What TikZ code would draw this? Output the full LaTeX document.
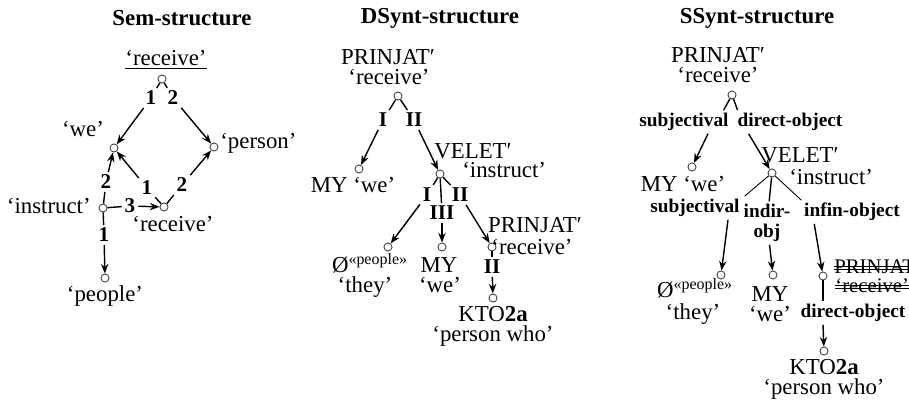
\documentclass[tikz,border=0pt]{standalone}
\usepackage{fontspec}
\setmainfont{Liberation Serif}
\usetikzlibrary{arrows.meta,calc}

\tikzset{
  vtx/.style={circle, draw=black!75, line width=0.5pt, inner sep=0pt, minimum size=4.6pt},
  wrd/.style={inner sep=0pt, text height=8.3pt, text depth=2.4pt, font=\fontsize{13}{13}\selectfont},
  struck/.style={wrd, font=\fontsize{11.8}{12}\selectfont},
  lbl/.style={inner sep=1.5pt, font=\fontsize{11}{11.3}\selectfont\bfseries, align=center},
  biglbl/.style={lbl, font=\fontsize{12}{12}\selectfont\bfseries},
  ttl/.style={font=\fontsize{13}{15}\selectfont\bfseries},
  seg/.style={line width=0.8pt},
  thinseg/.style={line width=0.5pt},
  arr/.style={line width=0.8pt, -{Stealth[length=5.5pt,width=4.2pt]}},
}

\begin{document}
\begin{tikzpicture}[x=0.02cm, y=-0.02cm]
        \useasboundingbox (0,0) rectangle (909,401);

        % Sem-structure
        \node[ttl] (semT) at (182,18) {Sem-structure};
        \node[wrd] (semRecL) at (166,60) {\underline{‘receive’}};
        \node[vtx] (semRec) at (162,79) {};
        \node[vtx] (semWe) at (114,148) {};
        \node[wrd] (semWeL) at (83,131) {‘we’};
        \node[vtx] (semPer) at (214,147) {};
        \node[wrd, anchor=west] (semPerL) at (220,143) {‘person’};
        \node[vtx] (semIns) at (103,208) {};
        \node[wrd, anchor=east] (semInsL) at (91,208) {‘instruct’};
        \node[vtx] (semRec2) at (164,207) {};
        \node[wrd] (semRec2L) at (173,226) {‘receive’};
        \node[vtx] (semPeo) at (105,278) {};
        \node[wrd] (semPeoL) at (105,296) {‘people’};

        \node[biglbl] (semA) at (151,98) {1};
        \node[biglbl] (semB) at (173,98) {2};
        \node[biglbl] (semC) at (106,182) {2};
        \node[biglbl] (semD) at (147,188) {1};
        \node[biglbl] (semE) at (182,185) {2};
        \node[biglbl] (semF) at (130,206) {3};
        \node[biglbl] (semG) at (104,235) {1};

        \draw[seg] (semRec) -- (semA);  \draw[arr] (semA) -- (semWe);
        \draw[seg] (semRec) -- (semB);  \draw[arr] (semB) -- (semPer);
        \draw[seg] (semIns) -- (semC);  \draw[arr] (semC) -- (semWe);
        \draw[seg] (semRec2) -- (semD); \draw[arr] (semD) -- (semWe);
        \draw[seg] (semRec2) -- (semE); \draw[arr] (semE) -- (semPer);
        \draw[seg] (semIns) -- (semF);  \draw[arr] (semF) -- (semRec2);
        \draw[seg] (semIns) -- (semG);  \draw[arr] (semG) -- (semPeo);

        % DSynt-structure
        \node[ttl] (dsT) at (440,18) {DSynt-structure};
        \node[wrd] (dsRecL) at (388,59) {PRINJAT′};
        \node[wrd] (dsRecG) at (389,79) {‘receive’};
        \node[vtx] (dsRec) at (398,96) {};
        \node[vtx] (dsMy) at (359,169) {};
        \node[wrd] (dsMyL) at (353,187) {MY ‘we’};
        \node[vtx] (dsVel) at (440,174) {};
        \node[wrd] (dsVelL) at (473,153) {VELET′};
        \node[wrd, anchor=west] (dsVelG) at (462,172) {‘instruct’};
        \node[vtx] (dsPeo) at (388,247) {};
        \node[wrd] (dsPeoL) at (370,267) {Ø\textsuperscript{«people»}};
        \node[wrd] (dsPeoG) at (365,287) {‘they’};
        \node[vtx] (dsMy2) at (442,247) {};
        \node[wrd] (dsMy2L) at (439,267) {MY};
        \node[wrd] (dsMy2G) at (440,287) {‘we’};
        \node[vtx] (dsPrin) at (492,247) {};
        \node[wrd] (dsPrinL) at (535,227) {PRINJAT′};
        \node[wrd] (dsPrinG) at (532,249) {‘receive’};
        \node[vtx] (dsKto) at (493,298) {};
        \node[wrd] (dsKtoL) at (493,316) {KTO\textbf{2a}};
        \node[wrd] (dsKtoG) at (493,336) {‘person who’};

        \node[biglbl] (dsA) at (383,120) {I};
        \node[biglbl] (dsB) at (414,120) {II};
        \node[biglbl] (dsC) at (427,195) {I};
        \node[biglbl] (dsD) at (442,213) {III};
        \node[biglbl] (dsE) at (460,195) {II};
        \node[biglbl] (dsF) at (492,267) {II};

        \draw[seg] (dsRec) -- (dsA);  \draw[arr] (dsA) -- (dsMy);
        \draw[seg] (dsRec) -- (dsB);  \draw[arr] (dsB) -- (dsVel);
        \draw[seg] (dsVel) -- (dsC);  \draw[arr] (dsC) -- (dsPeo);
        \draw[seg] (dsVel) -- (dsD);  \draw[arr] (dsD) -- (dsMy2);
        \draw[seg] (dsVel) -- (dsE);  \draw[arr] (dsE) -- (dsPrin);
        \draw[seg] (dsPrin) -- (dsF); \draw[arr] (dsF) -- (dsKto);

        % SSynt-structure
        \node[ttl] (ssT) at (757,18) {SSynt-structure};
        \node[wrd] (ssRecL) at (718,57) {PRINJAT′};
        \node[wrd] (ssRecG) at (718,77) {‘receive’};
        \node[vtx] (ssRec) at (732,95) {};
        \node[vtx] (ssMy) at (692,167) {};
        \node[wrd] (ssMyL) at (683,186) {MY ‘we’};
        \node[vtx] (ssVel) at (772,173) {};
        \node[wrd] (ssVelL) at (800,157) {VELET′};
        \node[wrd, anchor=west] (ssVelG) at (789,179) {‘instruct’};
        \node[vtx] (ssThey) at (721,275) {};
        \node[wrd] (ssTheyL) at (695,292) {Ø\textsuperscript{«people»}};
        \node[wrd] (ssTheyG) at (693,314) {‘they’};
        \node[vtx] (ssMy2) at (773,275) {};
        \node[wrd] (ssMy2L) at (770,296) {MY};
        \node[wrd] (ssMy2G) at (770,316) {‘we’};
        \node[vtx] (ssPrin) at (823,276) {};
        \node[struck, anchor=west] (ssPrinL) at (834,268) {PRINJAT′};
        \node[struck, anchor=west] (ssPrinG) at (835,287) {‘receive’};
        \node[vtx] (ssKto) at (824,351) {};
        \node[wrd] (ssKtoL) at (824,369) {KTO\textbf{2a}};
        \node[wrd] (ssKtoG) at (824,389) {‘person who’};

        \node[lbl] (ssA) at (684,122) {subjectival};
        \node[lbl] (ssB) at (790,122) {direct-object};
        \node[lbl] (ssC) at (695,208) {subjectival};
        \node[lbl] (ssD) at (767,223) {indir-\\obj};
        \node[lbl] (ssE) at (852,212) {infin-object};
        \node[lbl] (ssF) at (853,313) {direct-object};

        % struck-out lexeme
        \foreach \n in {ssPrinL,ssPrinG}
        \foreach \d in {1.1,-1.1}
        \draw[line width=0.6pt] ([yshift=\d pt]\n.west) -- ([yshift=\d pt]\n.east);

        \draw[seg] (ssRec) -- ($(ssA.north east)+(-8,0)$);
        \draw[arr] ($(ssA.south)+(24,0)$) -- (ssMy);
        \draw[seg] (ssRec) -- ($(ssB.north west)+(3,0)$);
        \draw[arr] ($(ssB.south west)+(14,0)$) -- (ssVel);
        \draw[thinseg] (ssVel) -- ($(ssC.north east)+(2,0)$);
        \draw[arr] ($(ssC.south)+(33,0)$) -- (ssThey);
        \draw[seg] (ssVel) -- (ssD);
        \draw[arr] (ssD) -- (ssMy2);
        \draw[thinseg] (ssVel) -- (ssE.north west);
        \draw[arr] ($(ssE.south west)+(13,0)$) -- (ssPrin);
        \draw[seg] (ssPrin) -- (ssPrin |- ssF.north);
        \draw[arr] (ssPrin |- ssF.south) -- (ssKto);

\end{tikzpicture}
\end{document}
